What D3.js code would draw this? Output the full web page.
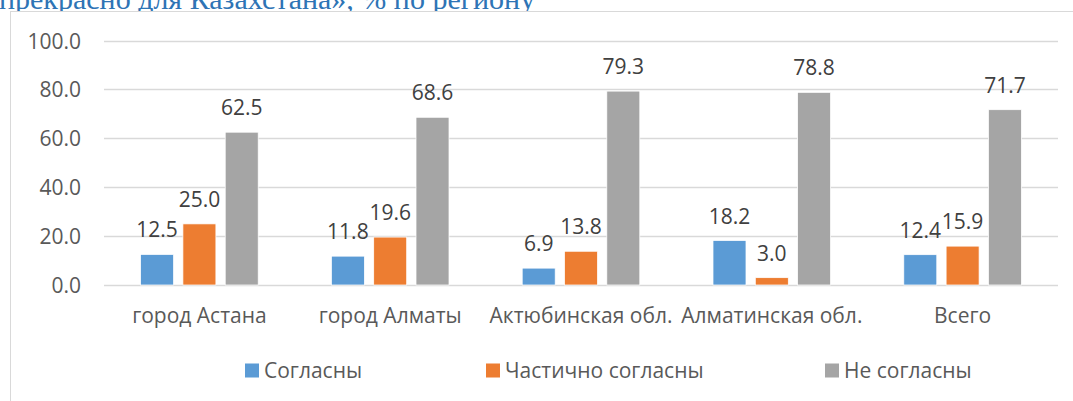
<!DOCTYPE html>
<html>
<head>
<meta charset="utf-8">
<script src="https://cdn.jsdelivr.net/npm/d3@7"></script>
<style>
  body { margin: 0; background: #fff; }
  svg { display: block; }
</style>
</head>
<body>
<div id="chart"></div>
<script>
// регионы по оси x
var regions = ["город Астана", "город Алматы", "Актюбинская обл.", "Алматинская обл.", "Всего"]
var seriesNames = ["Согласны", "Частично согласны", "Не согласны"]
var agree = [12.5, 11.8, 6.9, 18.2, 12.4]
var partly = [25.0, 19.6, 13.8, 3.0, 15.9]
var disagree = [62.5, 68.6, 79.3, 78.8, 71.7]
var yTicks = [0, 20, 40, 60, 80, 100]
var colors = ["#5B9BD5", "#ED7D31", "#A5A5A5"]
var titleText = "прекрасно для Казахстана», % по региону"

var values = [agree, partly, disagree]
var data = []
for (var i = 0; i < regions.length; i++) {
    for (var s = 0; s < seriesNames.length; s++) {
        data.push({ region: regions[i], series: seriesNames[s], value: values[s][i], idx: s })
    }
}

var width = 1073, height = 401
var font = "'Open Sans', 'Noto Sans', sans-serif"

var svg = d3.select("#chart")
    .append("svg")
    .attr("width", width)
    .attr("height", height)

// обрезанный заголовок сверху (как на исходнике, верх строки за краем)
svg.append("text")
    .attr("x", -1)
    .attr("y", 9)
    .attr("font-family", "'Liberation Serif', 'Times New Roman', serif")
    .attr("font-size", 30)
    .attr("fill", "#2E74B5")
    .text(titleText)

// рамка диаграммы
svg.append("rect")
    .attr("x", 10.5)
    .attr("y", 11.5)
    .attr("width", 1100)
    .attr("height", 420)
    .attr("fill", "#fff")
    .attr("stroke", "#d9d9d9")
    .attr("stroke-width", 1)

var x0 = d3.scaleBand()
    .domain(regions)
    .range([104, 1058])
    .padding(0)

var x1 = d3.scaleBand()
    .domain(seriesNames)
    .range([0, x0.bandwidth()])
    .paddingInner(0.22)
    .paddingOuter(0.865)

var y = d3.scaleLinear()
    .domain([0, 100])
    .range([285, 40.5])

// сетка
svg.append("g")
    .selectAll("line")
    .data(yTicks)
    .enter()
    .append("line")
    .attr("x1", 104)
    .attr("x2", 1058)
    .attr("y1", function (d) { return Math.round(y(d)) + 0.5 })
    .attr("y2", function (d) { return Math.round(y(d)) + 0.5 })
    .attr("stroke", "#d9d9d9")
    .attr("stroke-width", 1.3)

// подписи оси y
var yAxis = svg.append("g")
    .attr("transform", "translate(81,0)")
    .call(d3.axisLeft(y).tickValues(yTicks).tickSize(0).tickPadding(0).tickFormat(d3.format(".1f")))
yAxis.select(".domain").remove()
yAxis.selectAll("text")
    .attr("font-family", font)
    .attr("font-size", 21)
    .attr("fill", "#595959")
    .attr("dy", "0.36em")

// столбцы
svg.append("g")
    .selectAll("rect")
    .data(data)
    .enter()
    .append("rect")
    .attr("x", function (d) { return x0(d.region) + x1(d.series) })
    .attr("y", function (d) { return y(d.value) })
    .attr("width", x1.bandwidth())
    .attr("height", function (d) { return y(0) - y(d.value) })
    .attr("fill", function (d) { return colors[d.idx] })
    .attr("stroke", "#fff")
    .attr("stroke-width", 0.75)

// подписи значений
svg.append("g")
    .selectAll("text")
    .data(data)
    .enter()
    .append("text")
    .attr("x", function (d) { return x0(d.region) + x1(d.series) + x1.bandwidth() / 2 })
    .attr("y", function (d) { return y(d.value) - 17 })
    .attr("text-anchor", "middle")
    .attr("font-family", font)
    .attr("font-size", 21)
    .attr("fill", "#404040")
    .text(function (d) { return d.value.toFixed(1) })

// подписи категорий
var xAxis = svg.append("g")
    .attr("transform", "translate(0,323)")
    .call(d3.axisBottom(x0).tickSize(0).tickPadding(0))
xAxis.select(".domain").remove()
xAxis.selectAll("text")
    .attr("dy", 0)
    .attr("font-family", font)
    .attr("font-size", 21)
    .attr("fill", "#595959")

// легенда
var legendX = [245, 486, 825]
var legend = svg.append("g")
    .selectAll("g")
    .data(seriesNames)
    .enter()
    .append("g")
    .attr("transform", function (d, i) { return "translate(" + legendX[i] + ",363.5)" })
legend.append("rect")
    .attr("width", 14)
    .attr("height", 14)
    .attr("fill", function (d, i) { return colors[i] })
legend.append("text")
    .attr("x", 19)
    .attr("y", 14)
    .attr("font-family", font)
    .attr("font-size", 21)
    .attr("fill", "#595959")
    .text(function (d) { return d })
</script>
</body>
</html>
